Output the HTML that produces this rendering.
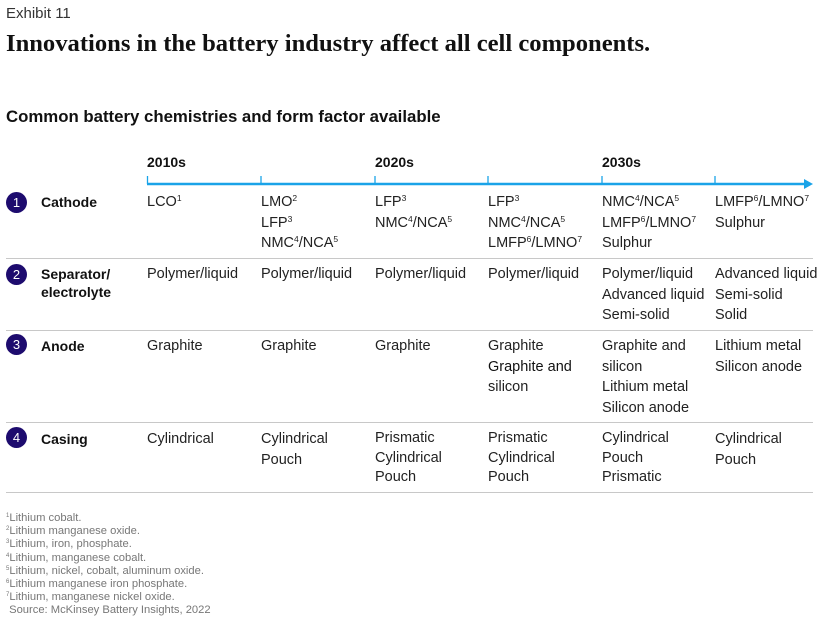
<!DOCTYPE html>
<html><head><meta charset="utf-8"><style>
body{margin:0;width:826px;height:625px;background:#fff;font-family:"Liberation Sans",Arial,sans-serif;position:relative;overflow:hidden;color:#222}
.a{position:absolute;white-space:nowrap}
.c{font-size:14.5px;line-height:20.5px;color:#222}
sup{font-size:8.5px;vertical-align:5px;line-height:0}
.lab{font-size:14px;font-weight:bold;line-height:18px;color:#111}
.num{position:absolute;left:6px;width:21px;height:21px;border-radius:50%;background:#1d0b6e;color:#fff;font-size:13px;text-align:center;line-height:21px}
.hr{position:absolute;left:6px;width:807px;height:1px;background:#c8c8c8}
.fn{font-size:11.2px;line-height:13.2px;color:#777}
.fn sup{font-size:6px;vertical-align:4px}
.yr{font-size:14px;font-weight:bold;color:#111}
</style></head><body>
<div class="a" style="left:6px;top:5px;font-size:15px;color:#333">Exhibit 11</div>
<div class="a" style="left:6px;top:30px;font-family:'Liberation Serif',serif;font-weight:bold;font-size:24.6px;color:#111">Innovations in the battery industry affect all cell components.</div>
<div class="a" style="left:6px;top:107px;font-size:16.8px;font-weight:bold;color:#111">Common battery chemistries and form factor available</div>

<svg class="a" style="left:0;top:170px" width="826" height="24">
<line x1="147" y1="14" x2="806" y2="14" stroke="#1aa3e8" stroke-width="2.5"/>
<polygon points="804,9 813,14 804,19" fill="#1aa3e8"/>
<g stroke="#1aa3e8" stroke-width="1.3">
<line x1="147.5" y1="6" x2="147.5" y2="14"/><line x1="261" y1="6" x2="261" y2="14"/><line x1="375" y1="6" x2="375" y2="14"/><line x1="488" y1="6" x2="488" y2="14"/><line x1="602" y1="6" x2="602" y2="14"/><line x1="715" y1="6" x2="715" y2="14"/>
</g></svg>
<div class="a yr" style="left:147px;top:154px">2010s</div>
<div class="a yr" style="left:375px;top:154px">2020s</div>
<div class="a yr" style="left:602px;top:154px">2030s</div>

<div class="num" style="top:192px">1</div>
<div class="a lab" style="left:41px;top:193px">Cathode</div>
<div class="a c" style="left:147px;top:192px">LCO<sup>1</sup></div>
<div class="a c" style="left:261px;top:192px">LMO<sup>2</sup><br>LFP<sup>3</sup><br>NMC<sup>4</sup>/NCA<sup>5</sup></div>
<div class="a c" style="left:375px;top:192px">LFP<sup>3</sup><br>NMC<sup>4</sup>/NCA<sup>5</sup></div>
<div class="a c" style="left:488px;top:192px">LFP<sup>3</sup><br>NMC<sup>4</sup>/NCA<sup>5</sup><br>LMFP<sup>6</sup>/LMNO<sup>7</sup></div>
<div class="a c" style="left:602px;top:192px">NMC<sup>4</sup>/NCA<sup>5</sup><br>LMFP<sup>6</sup>/LMNO<sup>7</sup><br>Sulphur</div>
<div class="a c" style="left:715px;top:192px">LMFP<sup>6</sup>/LMNO<sup>7</sup><br>Sulphur</div>
<div class="hr" style="top:258px"></div>

<div class="num" style="top:264px">2</div>
<div class="a lab" style="left:41px;top:265px">Separator/<br>electrolyte</div>
<div class="a c" style="left:147px;top:264px">Polymer/liquid</div>
<div class="a c" style="left:261px;top:264px">Polymer/liquid</div>
<div class="a c" style="left:375px;top:264px">Polymer/liquid</div>
<div class="a c" style="left:488px;top:264px">Polymer/liquid</div>
<div class="a c" style="left:602px;top:264px">Polymer/liquid<br>Advanced liquid<br>Semi-solid</div>
<div class="a c" style="left:715px;top:264px">Advanced liquid<br>Semi-solid<br>Solid</div>
<div class="hr" style="top:330px"></div>

<div class="num" style="top:334px">3</div>
<div class="a lab" style="left:41px;top:337px">Anode</div>
<div class="a c" style="left:147px;top:336px">Graphite</div>
<div class="a c" style="left:261px;top:336px">Graphite</div>
<div class="a c" style="left:375px;top:336px">Graphite</div>
<div class="a c" style="left:488px;top:336px">Graphite<br><span style="color:#111">Graphite and</span><br>silicon</div>
<div class="a c" style="left:602px;top:336px">Graphite and<br>silicon<br>Lithium metal<br>Silicon anode</div>
<div class="a c" style="left:715px;top:336px">Lithium metal<br>Silicon anode</div>
<div class="hr" style="top:422px"></div>

<div class="num" style="top:427px">4</div>
<div class="a lab" style="left:41px;top:430px">Casing</div>
<div class="a c" style="left:147px;top:429px">Cylindrical</div>
<div class="a c" style="left:261px;top:429px">Cylindrical<br>Pouch</div>
<div class="a c" style="left:375px;top:429px;line-height:19.5px">Prismatic<br>Cylindrical<br>Pouch</div>
<div class="a c" style="left:488px;top:429px;line-height:19.5px">Prismatic<br>Cylindrical<br>Pouch</div>
<div class="a c" style="left:602px;top:429px;line-height:19.5px">Cylindrical<br>Pouch<br>Prismatic</div>
<div class="a c" style="left:715px;top:429px">Cylindrical<br>Pouch</div>
<div class="hr" style="top:492px"></div>

<div class="a fn" style="left:6px;top:512px"><sup>1</sup>Lithium cobalt.<br><sup>2</sup>Lithium manganese oxide.<br><sup>3</sup>Lithium, iron, phosphate.<br><sup>4</sup>Lithium, manganese cobalt.<br><sup>5</sup>Lithium, nickel, cobalt, aluminum oxide.<br><sup>6</sup>Lithium manganese iron phosphate.<br><sup>7</sup>Lithium, manganese nickel oxide.<br>&nbsp;Source: McKinsey Battery Insights, 2022</div>
</body></html>
